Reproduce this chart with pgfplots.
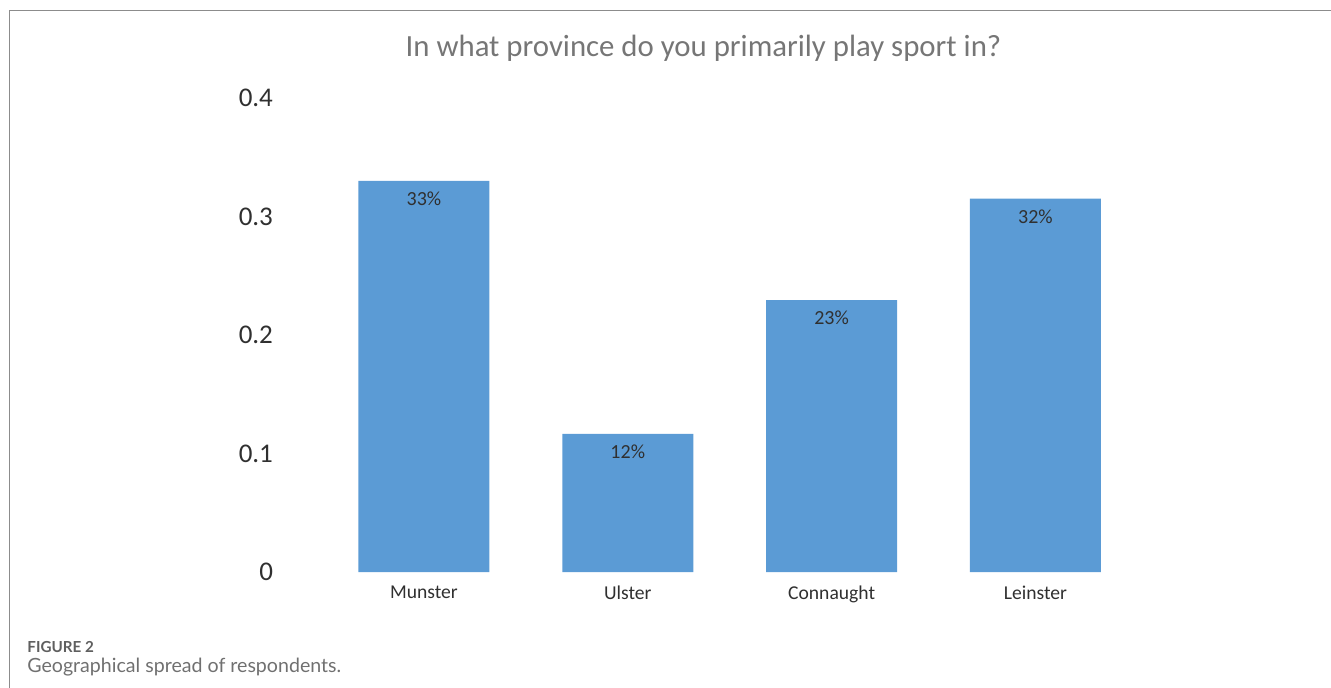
\documentclass[border=0pt]{standalone}
\usepackage{pgfplots}
\pgfplotsset{compat=1.18}
\usepackage{fontspec}
\setmainfont{Carlito}
\newfontfamily\capfont{Lato}
\definecolor{barblue}{HTML}{5B9BD5}
\definecolor{titlegray}{HTML}{767676}
\definecolor{framegray}{HTML}{8C8C8C}
\definecolor{labgray}{HTML}{303030}
\definecolor{capgray}{HTML}{707070}
\begin{document}
\begin{tikzpicture}[x=0.5pt,y=-0.5pt]
\useasboundingbox (0,0) rectangle (1331,688);
\draw[framegray, line width=0.7pt] (9.5,688) -- (9.5,10.5) -- (1331,10.5);
\node[anchor=base, inner sep=0, text=titlegray, font=\fontsize{15.4}{18}\selectfont] at (703.5,57) {In what province do you primarily play sport in?};
\node[anchor=base west, inner sep=0, text=capgray!85!black, font=\capfont\bfseries\fontsize{7.6}{10}\selectfont] at (27,652) {FIGURE 2};
\node[anchor=base west, inner sep=0, text=capgray, font=\capfont\fontsize{9.8}{12}\selectfont] at (27,672) {Geographical spread of respondents.};
\begin{axis}[
  at={(161pt,-286pt)}, anchor=south west,
  scale only axis, width=407.7pt, height=237pt,
  xmin=-0.5, xmax=3.5, ymin=0, ymax=0.4,
  ytick={0,0.1,0.2,0.3,0.4},
  xtick={0,1,2,3},
  xticklabels={Munster,Ulster,Connaught,Leinster},
  axis line style={draw=none},
  major tick length=0,
  ybar, bar width=65.5pt,
  /pgf/number format/assume math mode=true,
  yticklabel style={font=\fontsize{13.5}{16}\selectfont, text=labgray, xshift=-21pt},
  xticklabel style={font=\fontsize{9.8}{12}\selectfont, text=labgray, yshift=-3.5pt},
  clip=false,
]
\addplot[fill=barblue, draw=none,
  nodes near coords, point meta=explicit symbolic,
  nodes near coords style={anchor=north, yshift=-2pt, font=\fontsize{10}{12}\selectfont, text=labgray}]
  coordinates {(0,0.330) [33\%] (1,0.1165) [12\%] (2,0.2295) [23\%] (3,0.315) [32\%]};
\end{axis}
\end{tikzpicture}
\end{document}
